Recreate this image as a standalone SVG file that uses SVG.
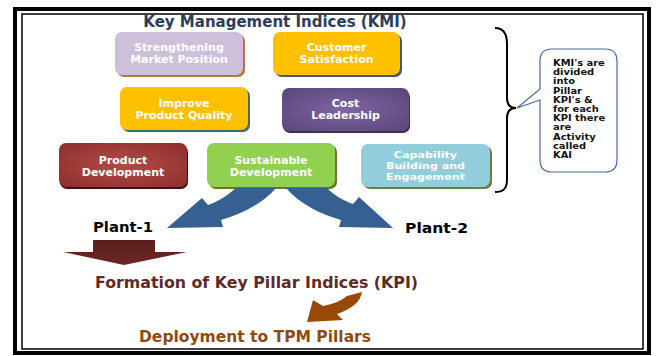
<svg xmlns="http://www.w3.org/2000/svg" width="656" height="356" viewBox="0 0 656 356">
  <defs>
    <style>
      .box-text { font-family: "DejaVu Sans", "Liberation Sans", sans-serif; font-weight: bold; font-size: 11px; fill: #ffffff; text-anchor: middle; }
      .box-text-sm { font-family: "DejaVu Sans", "Liberation Sans", sans-serif; font-weight: bold; font-size: 9.3px; fill: #ffffff; text-anchor: middle; }
      .title { font-family: "DejaVu Sans", "Liberation Sans", sans-serif; font-weight: bold; font-size: 15px; fill: #2b3d5b; text-anchor: middle; }
      .plant { font-family: "DejaVu Sans", "Liberation Sans", sans-serif; font-weight: bold; font-size: 14px; fill: #000000; }
      .note { font-family: "DejaVu Sans", "Liberation Sans", sans-serif; font-weight: bold; font-size: 8.4px; fill: #111111; }
      .kpi { font-family: "DejaVu Sans", "Liberation Sans", sans-serif; font-weight: bold; font-size: 15px; fill: #5e2a28; }
      .deploy { font-family: "DejaVu Sans", "Liberation Sans", sans-serif; font-weight: bold; font-size: 15px; fill: #8e4a10; }
      .blue-arrow { fill: #366092; }
    </style>
    <radialGradient id="gradRed" cx="0.5" cy="0.5" r="0.7">
      <stop offset="0" stop-color="#b54a47"/>
      <stop offset="1" stop-color="#8b2f2d"/>
    </radialGradient>
    <radialGradient id="gradPurple" cx="0.5" cy="0.5" r="0.7">
      <stop offset="0" stop-color="#7d65a3"/>
      <stop offset="1" stop-color="#5b4579"/>
    </radialGradient>
    <linearGradient id="gradMaroon" x1="0" y1="0" x2="0" y2="1">
      <stop offset="0" stop-color="#5a1f1e"/>
      <stop offset="1" stop-color="#6e2725"/>
    </linearGradient>
  </defs>

  <rect x="0" y="0" width="656" height="356" fill="#ffffff"/>

  <!-- double frame -->
  <rect x="15" y="9" width="634" height="344" fill="none" stroke="#000000" stroke-width="4"/>
  <rect x="22" y="14" width="621" height="335" fill="none" stroke="#000000" stroke-width="1.5"/>

  <text class="title" x="275" y="27">Key Management Indices (KMI)</text>

  <g id="node-market">
    <rect x="117" y="34" width="128" height="43" rx="7" fill="#b9763f"/>
    <rect x="115" y="32" width="128" height="43" rx="7" fill="#ccc0da"/>
    <text class="box-text" x="179" y="51">Strengthening</text>
    <text class="box-text" x="179" y="63">Market Position</text>
  </g>

  <g id="node-customer">
    <rect x="275" y="34" width="127" height="43" rx="7" fill="#3e5a78"/>
    <rect x="273" y="32" width="127" height="43" rx="7" fill="#ffc000"/>
    <text class="box-text" x="336.5" y="51">Customer</text>
    <text class="box-text" x="336.5" y="63">Satisfaction</text>
  </g>

  <g id="node-quality">
    <rect x="122" y="89" width="128" height="43" rx="7" fill="#3e6a78"/>
    <rect x="120" y="87" width="128" height="43" rx="7" fill="#ffc000"/>
    <text class="box-text" x="184" y="107">Improve</text>
    <text class="box-text" x="184" y="119">Product Quality</text>
  </g>

  <g id="node-cost">
    <rect x="283" y="90" width="127" height="43" rx="7" fill="#3f2f55"/>
    <rect x="282" y="88" width="127" height="43" rx="7" fill="url(#gradPurple)"/>
    <text class="box-text" x="345.5" y="107">Cost</text>
    <text class="box-text" x="345.5" y="119">Leadership</text>
  </g>

  <g id="node-product">
    <rect x="60" y="145" width="128" height="44" rx="7" fill="#3a1716"/>
    <rect x="59" y="143" width="128" height="44" rx="7" fill="url(#gradRed)"/>
    <text class="box-text" x="123" y="164">Product</text>
    <text class="box-text" x="123" y="176">Development</text>
  </g>

  <g id="node-sustainable">
    <rect x="209" y="145" width="128" height="44" rx="7" fill="#5c7a2e"/>
    <rect x="207" y="143" width="128" height="44" rx="7" fill="#92d050"/>
    <text class="box-text" x="271" y="164">Sustainable</text>
    <text class="box-text" x="271" y="176">Development</text>
  </g>

  <g id="node-capability">
    <rect x="363" y="146" width="129" height="43" rx="7" fill="#6e7a3e"/>
    <rect x="361" y="144" width="129" height="43" rx="7" fill="#92cddc"/>
    <!-- three lines set in a smaller, horizontally widened face -->
    <g transform="translate(425.5,0) scale(1.2,1)">
      <text class="box-text-sm" x="0" y="158.5">Capability</text>
      <text class="box-text-sm" x="0" y="169.5">Building and</text>
      <text class="box-text-sm" x="0" y="180.5">Engagement</text>
    </g>
  </g>

  <g id="node-note">
    <path d="M552,49 H605 Q617,49 617,61 V160 Q617,172 605,172 H552 Q540,172 540,160 V100 L517,108 L540,89 V61 Q540,49 552,49 Z" fill="#ffffff" stroke="#4a6a9a" stroke-width="1.2"/>
    <!-- note lines, stretched slightly wider than the font's natural width -->
    <g transform="translate(553,0) scale(1.18,1)">
      <text class="note" x="0" y="66">KMI's are</text>
      <text class="note" x="0" y="75.2">divided</text>
      <text class="note" x="0" y="84.4">into</text>
      <text class="note" x="0" y="93.6">Pillar</text>
      <text class="note" x="0" y="102.8">KPI's &amp;</text>
      <text class="note" x="0" y="112">for each</text>
      <text class="note" x="0" y="121.2">KPI there</text>
      <text class="note" x="0" y="130.4">are</text>
      <text class="note" x="0" y="139.6">Activity</text>
      <text class="note" x="0" y="148.8">called</text>
      <text class="note" x="0" y="158">KAI</text>
    </g>
  </g>

  <g id="node-plant1">
    <text class="plant" x="93" y="232" textLength="60" lengthAdjust="spacingAndGlyphs">Plant-1</text>
  </g>
  <g id="node-plant2">
    <text class="plant" x="405" y="233" textLength="63" lengthAdjust="spacingAndGlyphs">Plant-2</text>
  </g>

  <g id="node-kpi">
    <text class="kpi" x="95" y="288" textLength="323" lengthAdjust="spacingAndGlyphs">Formation of Key Pillar Indices (KPI)</text>
  </g>

  <g id="node-deploy">
    <text class="deploy" x="139" y="342" textLength="232" lengthAdjust="spacingAndGlyphs">Deployment to TPM Pillars</text>
  </g>

  <g id="connectors">
    <!-- brace grouping the KMI boxes -->
    <path d="M495,28 C503,28 507,33 507,44 L507,98 C507,105 510,108 516,108 C510,108 507,111 507,118 L507,180 C507,189 503,192 495,192" fill="none" stroke="#000000" stroke-width="2"/>
    <!-- curved arrows from Sustainable Development to the plants -->
    <path class="blue-arrow" d="M276,188 C262,204 242,214 221,220 L223,227 L167,228 L202,198 L208,205 C219,201 228,195 236,188 Z"/>
    <path class="blue-arrow" d="M286,188 C300,204 320,214 341,220 L339,227 L393,228 L359,197 L353,204 C342,200 334,195 327,188 Z"/>
    <!-- Plant-1 down arrow -->
    <path d="M93,240 H155 V252 H187 L124,265 L63,252 H93 Z" fill="url(#gradMaroon)"/>
    <!-- KPI to deployment arrow -->
    <path d="M347,296 L362,292 Q360,306 337,314 L343,320 L307,322 L313,300 L323,306 Q339,303 347,296 Z" fill="#984807"/>
  </g>
</svg>
